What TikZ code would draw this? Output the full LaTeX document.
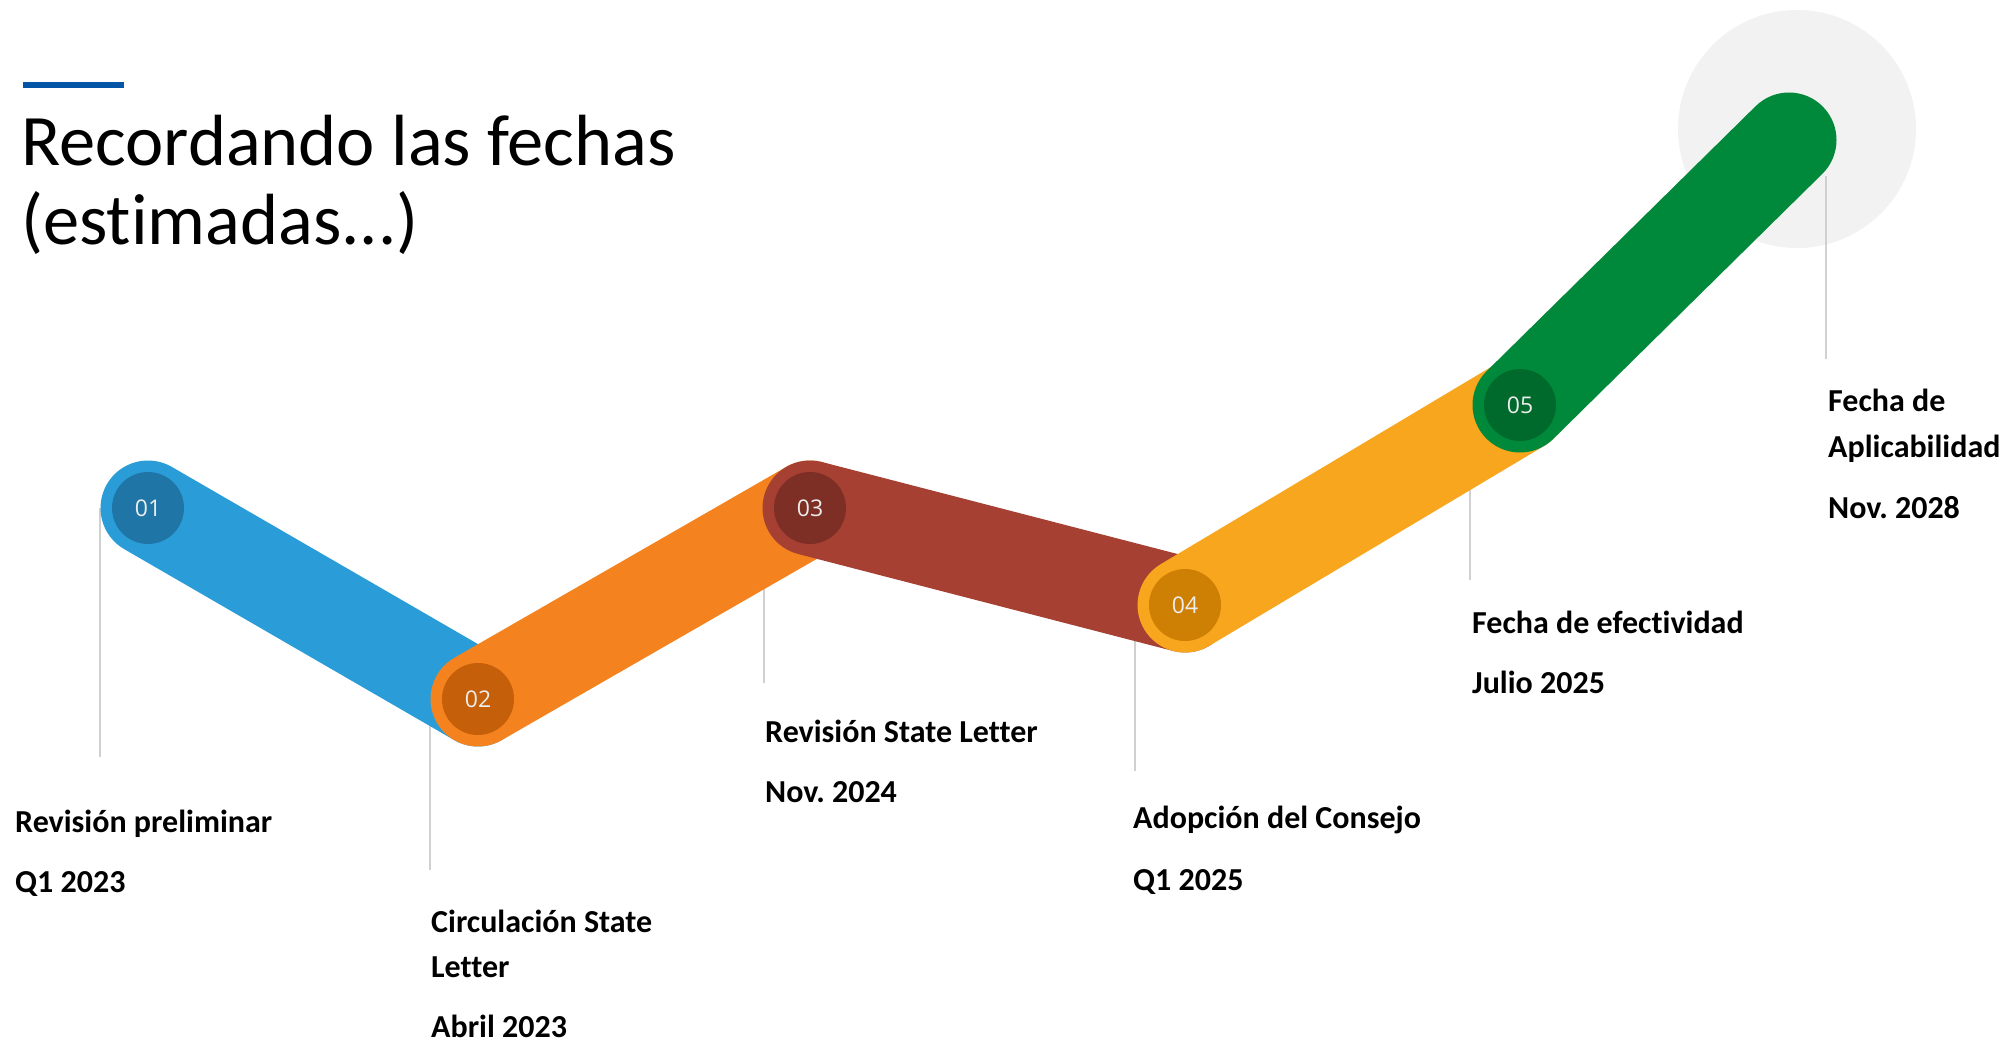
\documentclass[tikz,border=0pt]{standalone}
\usepackage{fontspec}
\setmainfont{Carlito}[Ligatures={NoCommon}]
\newfontfamily\numfont{Open Sans}
\definecolor{cblue}{HTML}{2A9DD8}
\definecolor{cbluedk}{HTML}{1F75A6}
\definecolor{corange}{HTML}{F4831F}
\definecolor{corangedk}{HTML}{C65F09}
\definecolor{cred}{HTML}{A54033}
\definecolor{creddk}{HTML}{7D2E25}
\definecolor{cyellow}{HTML}{F8A61D}
\definecolor{cyellowdk}{HTML}{CD8004}
\definecolor{cgreen}{HTML}{00893A}
\definecolor{cgreendk}{HTML}{006A2C}
\definecolor{cgrey}{HTML}{F2F2F2}
\definecolor{cbar}{HTML}{0455A5}
\definecolor{linegray}{HTML}{D0D0D0}
\definecolor{numwhite}{HTML}{EDEDED}
\frenchspacing
\begin{document}
\begin{tikzpicture}[x=1pt,y=-1pt,
  band/.style={line width=95pt, line cap=round},
  vline/.style={draw=linegray, line width=1.5pt},
  lbl/.style={anchor=base west, inner sep=0pt, font=\fontsize{32}{38}\selectfont\bfseries},
  ttl/.style={anchor=base west, inner sep=0pt, font=\fontsize{72.5}{80}\selectfont},
  num/.style={circle, minimum size=72pt, inner sep=0pt, text=numwhite, font=\numfont\fontsize{23}{26}\selectfont}
]
\useasboundingbox (0,0) rectangle (2003,1043);
\fill[white] (0,0) rectangle (2003,1043);

% title
\fill[cbar] (23,82) rectangle (124,88);
\node[ttl] (t1) at (21,166) {Recordando las fechas};
\node[ttl] (t2) at (21,245) {(estimadas...)};

% key points
\coordinate (p1) at (148,508);
\coordinate (p2) at (478,699);
\coordinate (p3) at (810,508);
\coordinate (p4) at (1185,605);
\coordinate (p5) at (1520,405);
\coordinate (p6) at (1789,140);

% grey halo
\fill[cgrey] (1797,129) circle (119);

% vertical guide lines
\coordinate (v1t) at (100,508);  \coordinate (v1b) at (100,757);
\coordinate (v2t) at (430,700);  \coordinate (v2b) at (430,870);
\coordinate (v3t) at (764,560);  \coordinate (v3b) at (764,683);
\coordinate (v4t) at (1135,620); \coordinate (v4b) at (1135,771);
\coordinate (v5t) at (1470,480); \coordinate (v5b) at (1470,580);
\coordinate (v6t) at (1826,176); \coordinate (v6b) at (1826,359);
\foreach \i in {1,...,6} {\draw[vline] (v\i t) -- (v\i b);}

% bands
\draw[band, draw=cblue] (p1) -- (p2);
\draw[band, draw=corange] (p2) -- (p3);
\draw[band, draw=cred] (p3) -- (p4);
\draw[band, draw=cyellow] (p4) -- (p5);
\draw[band, draw=cgreen] (p5) -- (p6);

% numbered circles
\node[num, fill=cbluedk] (n1) at (p1) {01};
\node[num, fill=corangedk] (n2) at (p2) {02};
\node[num, fill=creddk] (n3) at (p3) {03};
\node[num, fill=cyellowdk] (n4) at (p4) {04};
\node[num, fill=cgreendk] (n5) at (p5) {05};

% labels
\node[lbl] (a1) at (15,832) {Revisión preliminar};
\node[lbl] (a2) at (15,892) {Q1 2023};
\node[lbl] (b1) at (431,932) {Circulación State};
\node[lbl] (b2) at (431,977) {Letter};
\node[lbl] (b3) at (431,1037) {Abril 2023};
\node[lbl] (c1) at (765,742) {Revisión State Letter};
\node[lbl] (c2) at (765,802) {Nov. 2024};
\node[lbl] (d1) at (1133,828) {Adopción del Consejo};
\node[lbl] (d2) at (1133,890) {Q1 2025};
\node[lbl] (e1) at (1472,633) {Fecha de efectividad};
\node[lbl] (e2) at (1472,693) {Julio 2025};
\node[lbl] (f1) at (1828,411) {Fecha de};
\node[lbl] (f2) at (1828,457) {Aplicabilidad};
\node[lbl] (f3) at (1828,518) {Nov. 2028};
\end{tikzpicture}
\end{document}
